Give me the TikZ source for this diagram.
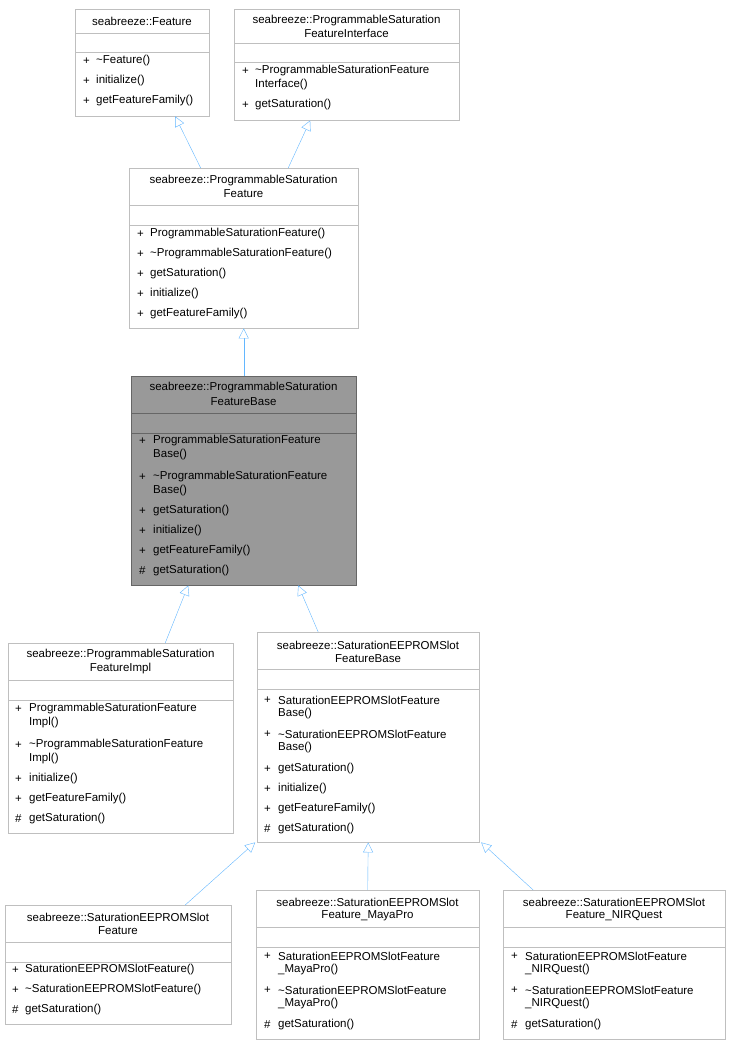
\documentclass[tikz,border=0pt]{standalone}
\usepackage{fontspec}
\setmainfont{Liberation Sans}
\usetikzlibrary{arrows.meta,positioning}

\definecolor{boxline}{RGB}{191,191,191}
\definecolor{basefill}{RGB}{153,153,153}
\definecolor{baseline}{RGB}{102,102,102}
\definecolor{inherit}{RGB}{99,183,255}

\tikzset{
  umlbox/.style={draw=boxline, fill=white, inner sep=0pt, anchor=north west},
  umlgray/.style={draw=baseline, fill=basefill, inner sep=0pt, anchor=north west},
  txt/.style={inner sep=0pt, anchor=west, font=\fontsize{11.5}{13}\selectfont},
  ttl/.style={inner sep=0pt, font=\fontsize{11.5}{13}\selectfont},
  isa/.style={draw=inherit, -{Triangle[open, width=10pt, length=10pt, fill=white]}}
}

% box: name, style, x1, y1, x2, y2, title end, blank end
\newcommand{\umlclass}[8]{%
  \node (#1) [#2, minimum width=#5pt-#3pt, minimum height=#6pt-#4pt] at (#3,#4) {};
  \draw[draw=#2line] (#3,#7) -- (#5,#7);
  \draw[draw=#2line] (#3,#8) -- (#5,#8);
}
\colorlet{umlboxline}{boxline}
\colorlet{umlgrayline}{baseline}

\begin{document}
\begin{tikzpicture}[x=1pt, y=-1pt]
  \useasboundingbox (0,0) rectangle (731,1045);

  \umlclass{feat}{umlbox}{75}{9}{209}{116}{33}{52}
  \node[ttl] at (142,21) {seabreeze::Feature};
  \foreach \y/\p/\t in {61/+/\textasciitilde Feature(), 81/+/initialize(), 101/+/getFeatureFamily()}
    {\node[txt] at (83,\y) {\p}; \node[txt] at (96,\y) {\t};}

  \umlclass{iface}{umlbox}{234}{9}{459}{120}{43}{62}
  \node[ttl] at (346.5,21) {seabreeze::ProgrammableSaturation};
  \node[ttl] at (346.5,33) {FeatureInterface};
  \foreach \y/\p/\t in {71/+/\textasciitilde ProgrammableSaturationFeature, 85//Interface(), 105/+/getSaturation()}
    {\node[txt] at (242,\y) {\p}; \node[txt] at (255,\y) {\t};}

  \umlclass{psf}{umlbox}{129}{168}{358}{328}{205}{225}
  \node[ttl] at (243.5,181) {seabreeze::ProgrammableSaturation};
  \node[ttl] at (243.5,194) {Feature};
  \foreach \y/\p/\t in {234/+/ProgrammableSaturationFeature(), 254/+/\textasciitilde ProgrammableSaturationFeature(),
      274/+/getSaturation(), 294/+/initialize(), 314/+/getFeatureFamily()}
    {\node[txt] at (137,\y) {\p}; \node[txt] at (150,\y) {\t};}

  \umlclass{base}{umlgray}{131}{376}{356}{585}{413}{433}
  \node[ttl] at (243.5,388) {seabreeze::ProgrammableSaturation};
  \node[ttl] at (243.5,402) {FeatureBase};
  \foreach \y/\p/\t in {441/+/ProgrammableSaturationFeature, 455//Base(), 477/+/\textasciitilde ProgrammableSaturationFeature,
      491//Base(), 511/+/getSaturation(), 531/+/initialize(), 551/+/getFeatureFamily(), 571/\#/getSaturation()}
    {\node[txt] at (139,\y) {\p}; \node[txt] at (153,\y) {\t};}

  \umlclass{impl}{umlbox}{8}{643}{233}{833}{680}{700}
  \node[ttl] at (120.5,655) {seabreeze::ProgrammableSaturation};
  \node[ttl] at (120.5,669) {FeatureImpl};
  \foreach \y/\p/\t in {709/+/ProgrammableSaturationFeature, 723//Impl(), 745/+/\textasciitilde ProgrammableSaturationFeature,
      759//Impl(), 779/+/initialize(), 799/+/getFeatureFamily(), 819/\#/getSaturation()}
    {\node[txt] at (15,\y) {\p}; \node[txt] at (29,\y) {\t};}

  \umlclass{slotbase}{umlbox}{257}{632}{479}{842}{669}{689}
  \node[ttl] at (368,645) {seabreeze::SaturationEEPROMSlot};
  \node[ttl] at (368,659) {FeatureBase};
  \foreach \y/\p/\t in {700/+/SaturationEEPROMSlotFeature, 714//Base(), 734/+/\textasciitilde SaturationEEPROMSlotFeature,
      748//Base(), 769/+/getSaturation(), 789/+/initialize(), 809/+/getFeatureFamily(), 829/\#/getSaturation()}
    {\node[txt] at (264,\y) {\p}; \node[txt] at (278,\y) {\t};}

  \umlclass{slot}{umlbox}{5}{905}{231}{1024}{942}{962}
  \node[ttl] at (118,917) {seabreeze::SaturationEEPROMSlot};
  \node[ttl] at (118,931) {Feature};
  \foreach \y/\p/\t in {970/+/SaturationEEPROMSlotFeature(), 990/+/\textasciitilde SaturationEEPROMSlotFeature(), 1010/\#/getSaturation()}
    {\node[txt] at (12,\y) {\p}; \node[txt] at (25,\y) {\t};}

  \umlclass{maya}{umlbox}{256}{890}{479}{1039}{927}{947}
  \node[ttl] at (367.5,902) {seabreeze::SaturationEEPROMSlot};
  \node[ttl] at (367.5,916) {Feature\_MayaPro};
  \foreach \y/\p/\t in {956/+/SaturationEEPROMSlotFeature, 970//\_MayaPro(), 990/+/\textasciitilde SaturationEEPROMSlotFeature,
      1004//\_MayaPro(), 1025/\#/getSaturation()}
    {\node[txt] at (264,\y) {\p}; \node[txt] at (278,\y) {\t};}

  \umlclass{nir}{umlbox}{503}{890}{725}{1039}{927}{947}
  \node[ttl] at (614,902) {seabreeze::SaturationEEPROMSlot};
  \node[ttl] at (614,916) {Feature\_NIRQuest};
  \foreach \y/\p/\t in {956/+/SaturationEEPROMSlotFeature, 970//\_NIRQuest(), 990/+/\textasciitilde SaturationEEPROMSlotFeature,
      1004//\_NIRQuest(), 1025/\#/getSaturation()}
    {\node[txt] at (511,\y) {\p}; \node[txt] at (525,\y) {\t};}

  % inheritance
  \draw[isa] ([xshift=-43pt]psf.north) -- ([xshift=33pt]feat.south);
  \draw[isa] ([xshift=44.5pt]psf.north) -- ([xshift=-36.5pt]iface.south);
  \draw[isa] (base.north) -- (psf.south);
  \draw[isa] ([xshift=44.5pt]impl.north) -- ([xshift=-55.5pt]base.south);
  \draw[isa] ([xshift=-50pt]slotbase.north) -- ([xshift=54.5pt]base.south);
  \draw[isa] ([xshift=67pt]slot.north) -- ([xshift=-113pt]slotbase.south);
  \draw[isa] (maya.north) -- (slotbase.south);
  \draw[isa] ([xshift=-81pt]nir.north) -- ([xshift=113pt]slotbase.south);
\end{tikzpicture}
\end{document}
